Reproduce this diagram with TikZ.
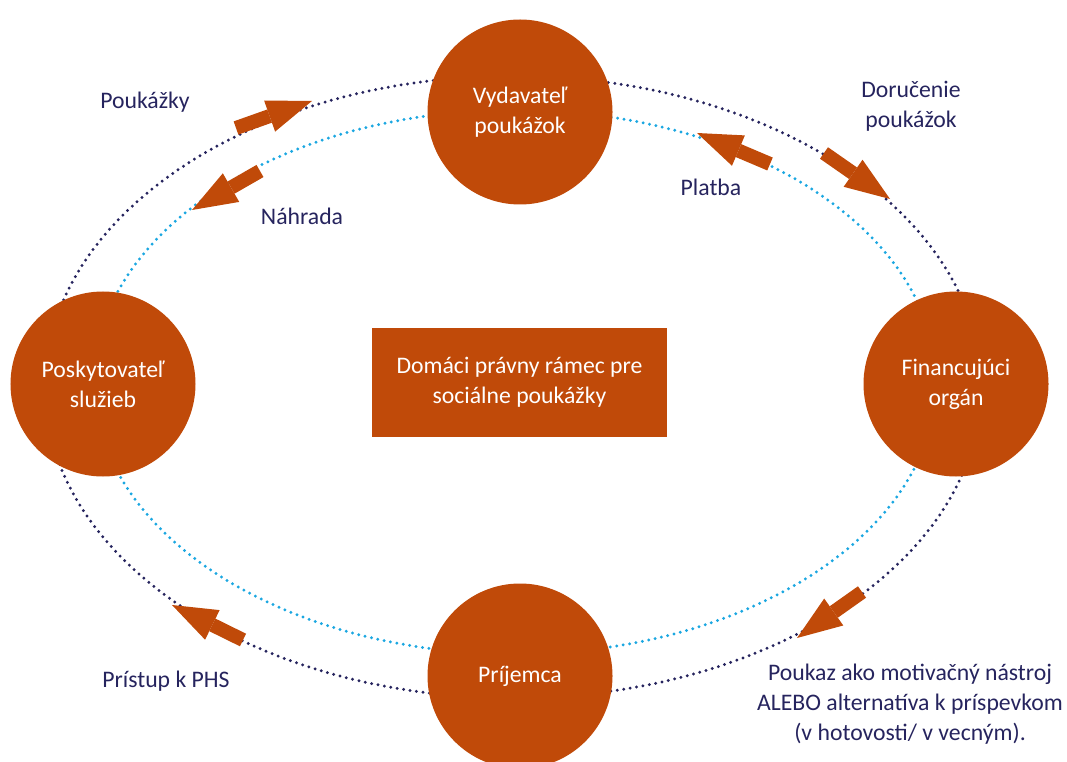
\documentclass[tikz,border=0pt]{standalone}
\usepackage{fontspec}
\setmainfont{Carlito}
\usetikzlibrary{arrows.meta}
\definecolor{rust}{RGB}{192,74,9}
\definecolor{navy}{RGB}{38,36,94}
\definecolor{sky}{RGB}{27,167,225}
\tikzset{
	party/.style={circle, fill=rust, minimum size=3.7cm, inner sep=0pt, text=white, align=center, font=\fontsize{13.5}{17}\selectfont},
	frame/.style={rectangle, fill=rust, minimum width=5.9cm, minimum height=2.18cm, text=white, align=center, font=\fontsize{13.5}{17}\selectfont},
	lbl/.style={text=navy, align=center, font=\fontsize{13.5}{17}\selectfont},
	flow/.style={rust, line width=2.8mm, -{Triangle[length=9mm, width=6.6mm, line width=0pt]}},
	dots/.style={line width=0.65mm, line cap=round, dash pattern=on 0pt off 1.3mm}
}

\begin{document}
\begin{tikzpicture}[x=0.2mm, y=-0.2mm]
\useasboundingbox (0,0) rectangle (1067,762);
\draw [dots, navy] (513,387) ellipse [x radius=468, y radius=311];
\draw [dots, sky] (515,382) ellipse [x radius=421, y radius=272];

\node [party] (issuer) at (520,112) {Vydavateľ\\poukážok};
\node [party] (provider) at (103,384) {Poskytovateľ\\služieb};
\node [party] (funder) at (956,384) {Financujúci\\orgán};
\node [party] (recipient) at (520,676) {Príjemca};
\node [frame] (law) at (519.5,382.5) {Domáci právny rámec pre\\sociálne poukážky};

\node [lbl] (vouchers) at (145,102) {Poukážky};
\node [lbl] (refund) at (302,216) {Náhrada};
\node [lbl] (delivery) at (911,106) {Doručenie\\poukážok};
\node [lbl] (payment) at (711,187) {Platba};
\node [lbl] (access) at (166,681) {Prístup k PHS};
\node [lbl] (incentive) at (910,704) {Poukaz ako motivačný nástroj\\ALEBO alternatíva k príspevkom\\(v hotovosti/ v vecným).};

\coordinate (t1) at (236,128); \coordinate (h1) at (312,101);
\coordinate (t2) at (260,171); \coordinate (h2) at (192,210);
\coordinate (t3) at (770,164); \coordinate (h3) at (697,133);
\coordinate (t4) at (824,153); \coordinate (h4) at (890,199);
\coordinate (t5) at (243,640); \coordinate (h5) at (172,605);
\coordinate (t6) at (862,592); \coordinate (h6) at (797,638);
\foreach \n in {1,...,6}
	\draw [flow] (t\n) -- (h\n);
\end{tikzpicture}
\end{document}
